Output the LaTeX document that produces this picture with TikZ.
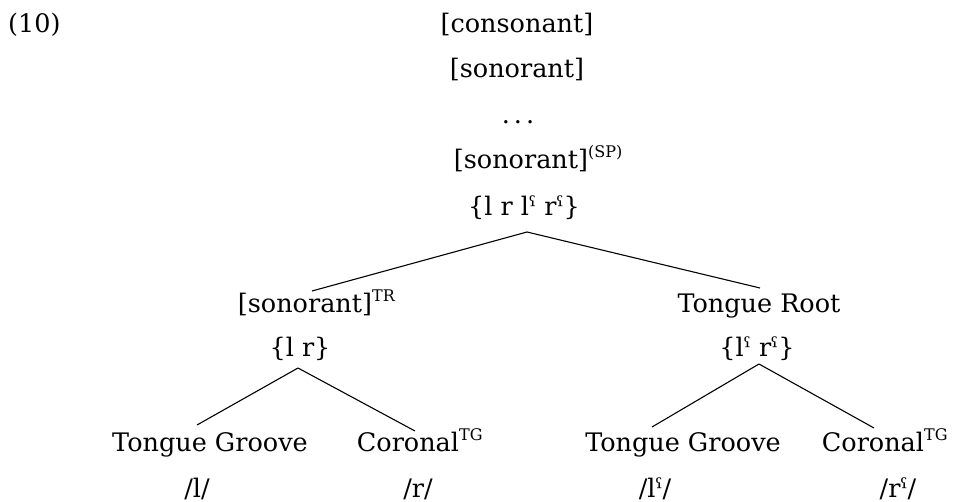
\documentclass[tikz,border=0pt]{standalone}
\usepackage{fontspec}
\setmainfont{DejaVu Serif}
\newcommand\hsup[1]{\rlap{\raisebox{0.9ex}{\fontsize{16}{16}\selectfont #1}}}
\newcommand\phar{ˤ}
\begin{document}
\begin{tikzpicture}[x=1pt,y=-1pt,
  lbl/.style={anchor=base,inner sep=0pt,font=\fontsize{25.5}{29}\selectfont},
  edge/.style={draw,line width=1.1pt}]
\useasboundingbox (0,0) rectangle (959,502);
% example number
\node[lbl,anchor=base west] (ex) at (8,33) {(10)};
% top chain
\node[lbl] (cons) at (517,33) {[consonant]};
\node[lbl] (son) at (517,78) {[sonorant]};
\node[lbl] (dots) at (518,124) {.\kern4pt.\kern4pt.};
\node[lbl] (sonsp) at (521,169) {[sonorant]\hsup{(SP)}};
\node[lbl] (all) at (524,216) {\{l r l\phar{} r\phar\}};
% middle level
\node[lbl] (sontr) at (305,313) {[sonorant]\hsup{TR}};
\node[lbl] (troot) at (759,313) {Tongue Root};
\node[lbl] (lr) at (300,357) {\{l r\}};
\node[lbl] (lrph) at (757,357) {\{l\phar{} r\phar\}};
% leaves
\node[lbl] (tgA) at (210,452) {Tongue Groove};
\node[lbl] (corA) at (408,452) {Coronal\hsup{TG}};
\node[lbl] (tgB) at (683,452) {Tongue Groove};
\node[lbl] (corB) at (873,452) {Coronal\hsup{TG}};
\node[lbl] (segA) at (197,497) {/l/};
\node[lbl] (segB) at (418,497) {/r/};
\node[lbl] (segC) at (655,497) {/l\phar/};
\node[lbl] (segD) at (898,497) {/r\phar/};
% branches
\draw[edge] ([shift={(3,16)}]all.base) -- ([shift={(7,-22)}]sontr.base);
\draw[edge] ([shift={(3,16)}]all.base) -- ([shift={(1,-25)}]troot.base);
\draw[edge] ([shift={(-2,11)}]lr.base) -- ([shift={(-13,-27)}]tgA.base);
\draw[edge] ([shift={(-2,11)}]lr.base) -- ([shift={(7,-21)}]corA.base);
\draw[edge] ([shift={(2,7)}]lrph.base) -- ([shift={(-31,-25)}]tgB.base);
\draw[edge] ([shift={(2,7)}]lrph.base) -- ([shift={(1,-24)}]corB.base);
\end{tikzpicture}
\end{document}
